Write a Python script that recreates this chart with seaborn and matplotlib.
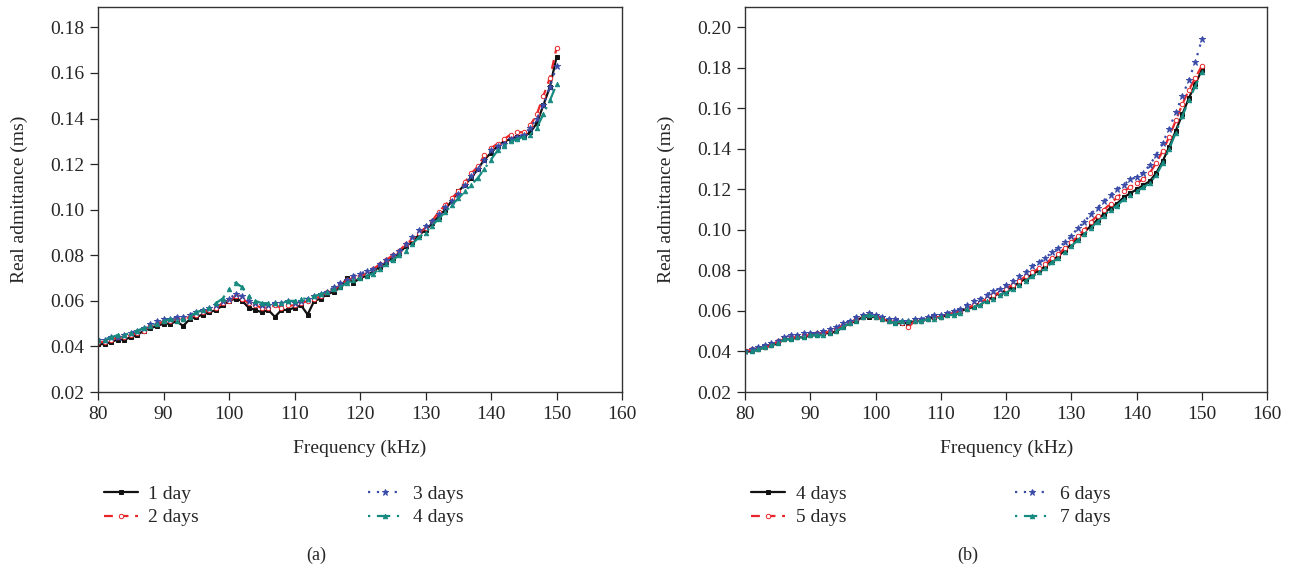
import numpy as np
import pandas as pd
import matplotlib
matplotlib.use("Agg")
import matplotlib.pyplot as plt
import seaborn as sns

# frequency axis (kHz), one reading per kHz
freq = list(range(80, 151))

# panel (a): 1 to 4 days
a_day1 = [0.041, 0.041, 0.042, 0.043, 0.043, 0.044, 0.045, 0.047, 0.048, 0.049,
          0.050, 0.050, 0.051, 0.049, 0.052, 0.053, 0.054, 0.055, 0.056, 0.058,
          0.060, 0.061, 0.060, 0.057, 0.056, 0.055, 0.056, 0.053, 0.056, 0.056,
          0.057, 0.058, 0.054, 0.060, 0.061, 0.063, 0.064, 0.066, 0.070, 0.068,
          0.070, 0.071, 0.073, 0.075, 0.077, 0.079, 0.081, 0.084, 0.086, 0.089,
          0.091, 0.094, 0.097, 0.100, 0.104, 0.108, 0.111, 0.114, 0.118, 0.122,
          0.125, 0.128, 0.130, 0.131, 0.132, 0.132, 0.134, 0.138, 0.146, 0.154,
          0.167]
a_day2 = [0.042, 0.042, 0.043, 0.044, 0.044, 0.045, 0.046, 0.047, 0.049, 0.050,
          0.051, 0.051, 0.052, 0.052, 0.053, 0.054, 0.055, 0.056, 0.057, 0.059,
          0.060, 0.062, 0.061, 0.059, 0.058, 0.057, 0.057, 0.058, 0.057, 0.058,
          0.058, 0.059, 0.060, 0.061, 0.062, 0.064, 0.065, 0.067, 0.069, 0.070,
          0.071, 0.072, 0.074, 0.076, 0.078, 0.080, 0.082, 0.085, 0.087, 0.090,
          0.092, 0.095, 0.099, 0.102, 0.105, 0.108, 0.112, 0.116, 0.119, 0.124,
          0.127, 0.129, 0.131, 0.133, 0.134, 0.134, 0.137, 0.142, 0.150, 0.158,
          0.171]
a_day3 = [0.043, 0.043, 0.044, 0.044, 0.045, 0.046, 0.047, 0.048, 0.050, 0.051,
          0.052, 0.052, 0.053, 0.053, 0.054, 0.055, 0.056, 0.057, 0.058, 0.060,
          0.061, 0.063, 0.062, 0.060, 0.059, 0.058, 0.058, 0.059, 0.059, 0.060,
          0.059, 0.060, 0.061, 0.062, 0.063, 0.064, 0.066, 0.068, 0.069, 0.071,
          0.072, 0.073, 0.074, 0.076, 0.078, 0.080, 0.082, 0.085, 0.088, 0.091,
          0.093, 0.095, 0.098, 0.101, 0.104, 0.107, 0.111, 0.115, 0.118, 0.122,
          0.126, 0.128, 0.129, 0.131, 0.132, 0.133, 0.136, 0.140, 0.146, 0.154,
          0.163]
a_day4 = [0.043, 0.043, 0.044, 0.045, 0.045, 0.046, 0.047, 0.048, 0.049, 0.050,
          0.051, 0.052, 0.051, 0.052, 0.053, 0.055, 0.056, 0.057, 0.059, 0.061,
          0.065, 0.068, 0.066, 0.062, 0.060, 0.059, 0.059, 0.059, 0.059, 0.060,
          0.060, 0.061, 0.061, 0.062, 0.063, 0.064, 0.065, 0.066, 0.068, 0.069,
          0.070, 0.071, 0.072, 0.074, 0.076, 0.078, 0.080, 0.082, 0.085, 0.088,
          0.090, 0.093, 0.096, 0.099, 0.102, 0.105, 0.108, 0.111, 0.114, 0.118,
          0.122, 0.126, 0.128, 0.130, 0.131, 0.132, 0.133, 0.136, 0.142, 0.148,
          0.155]

# panel (b): 4 to 7 days
b_day4 = [0.040, 0.040, 0.041, 0.042, 0.043, 0.044, 0.046, 0.046, 0.047, 0.047,
          0.048, 0.048, 0.049, 0.049, 0.050, 0.052, 0.054, 0.055, 0.057, 0.057,
          0.057, 0.056, 0.055, 0.054, 0.054, 0.054, 0.055, 0.055, 0.056, 0.057,
          0.057, 0.058, 0.059, 0.060, 0.061, 0.062, 0.064, 0.065, 0.067, 0.069,
          0.070, 0.072, 0.074, 0.076, 0.078, 0.080, 0.082, 0.085, 0.087, 0.090,
          0.093, 0.096, 0.099, 0.102, 0.105, 0.108, 0.111, 0.113, 0.116, 0.118,
          0.120, 0.122, 0.124, 0.128, 0.134, 0.141, 0.149, 0.157, 0.165, 0.172,
          0.179]
b_day5 = [0.040, 0.041, 0.041, 0.042, 0.043, 0.045, 0.046, 0.047, 0.047, 0.048,
          0.048, 0.049, 0.049, 0.050, 0.051, 0.053, 0.054, 0.056, 0.057, 0.058,
          0.057, 0.056, 0.055, 0.055, 0.054, 0.052, 0.055, 0.055, 0.056, 0.057,
          0.057, 0.058, 0.059, 0.060, 0.061, 0.063, 0.064, 0.066, 0.068, 0.069,
          0.071, 0.073, 0.075, 0.077, 0.079, 0.081, 0.083, 0.086, 0.088, 0.091,
          0.094, 0.097, 0.100, 0.104, 0.107, 0.110, 0.113, 0.116, 0.119, 0.121,
          0.123, 0.125, 0.128, 0.133, 0.139, 0.146, 0.154, 0.162, 0.169, 0.175,
          0.181]
b_day6 = [0.040, 0.041, 0.042, 0.043, 0.044, 0.045, 0.047, 0.048, 0.048, 0.049,
          0.049, 0.049, 0.050, 0.051, 0.052, 0.054, 0.055, 0.057, 0.058, 0.059,
          0.058, 0.057, 0.056, 0.056, 0.055, 0.055, 0.056, 0.056, 0.057, 0.058,
          0.058, 0.059, 0.060, 0.061, 0.063, 0.065, 0.066, 0.068, 0.070, 0.071,
          0.073, 0.075, 0.077, 0.079, 0.082, 0.084, 0.086, 0.089, 0.091, 0.094,
          0.097, 0.101, 0.104, 0.108, 0.111, 0.114, 0.117, 0.120, 0.122, 0.125,
          0.126, 0.128, 0.132, 0.137, 0.143, 0.150, 0.158, 0.166, 0.174, 0.183,
          0.194]
b_day7 = [0.040, 0.040, 0.041, 0.042, 0.043, 0.044, 0.046, 0.046, 0.047, 0.047,
          0.048, 0.048, 0.048, 0.049, 0.050, 0.052, 0.054, 0.055, 0.057, 0.058,
          0.057, 0.056, 0.055, 0.054, 0.055, 0.055, 0.055, 0.055, 0.056, 0.056,
          0.057, 0.058, 0.058, 0.059, 0.061, 0.062, 0.063, 0.065, 0.066, 0.068,
          0.069, 0.071, 0.073, 0.075, 0.077, 0.079, 0.081, 0.084, 0.086, 0.089,
          0.092, 0.095, 0.098, 0.101, 0.104, 0.107, 0.110, 0.112, 0.115, 0.117,
          0.119, 0.121, 0.123, 0.127, 0.133, 0.140, 0.148, 0.156, 0.164, 0.171,
          0.178]

labels_a = ["1 day", "2 days", "3 days", "4 days"]
labels_b = ["4 days", "5 days", "6 days", "7 days"]

colors = ["#111111", "#e8262a", "#3a4ca8", "#178a80"]
styles = ["-", (0, (4, 3)), (0, (1, 3)), (0, (1, 3, 6, 3))]
markers = ["s", "o", "*", "^"]

sns.set_style("ticks")
plt.rcParams["font.family"] = ["Liberation Serif", "DejaVu Serif"]

fig = plt.figure(figsize=(12.97, 5.74), dpi=100)
ax_a = fig.add_axes([0.0756, 0.317, 0.404, 0.671])
ax_b = fig.add_axes([0.5745, 0.317, 0.4025, 0.671])


def draw(ax, series, labels, ylim, yticks):
    for vals, lab, c, ls, m in zip(series, labels, colors, styles, markers):
        sns.lineplot(x=freq, y=vals, ax=ax, color=c, linestyle=ls, marker=m,
                     markersize=4.5 if m == "*" else 3.2, markeredgewidth=0.7,
                     markeredgecolor=c, linewidth=1.6,
                     label=lab, legend=False,
                     markerfacecolor="white" if m == "o" else c)
    ax.set_xlim(80, 160)
    ax.set_xticks(range(80, 161, 10))
    ax.set_ylim(*ylim)
    ax.set_yticks(yticks)
    ax.set_yticklabels([f"{t:.2f}" for t in yticks])
    ax.set_xlabel("Frequency (kHz)", fontsize=14, labelpad=12)
    ax.set_ylabel("Real admittance (ms)", fontsize=14, labelpad=16)
    ax.tick_params(labelsize=14, direction="out", length=6, width=0.9, pad=4)
    for s in ax.spines.values():
        s.set_color("#333333")
        s.set_linewidth(1.0)


draw(ax_a, [a_day1, a_day2, a_day3, a_day4], labels_a, (0.02, 0.189),
     [0.02, 0.04, 0.06, 0.08, 0.10, 0.12, 0.14, 0.16, 0.18])
draw(ax_b, [b_day4, b_day5, b_day6, b_day7], labels_b, (0.02, 0.21),
     [0.02, 0.04, 0.06, 0.08, 0.10, 0.12, 0.14, 0.16, 0.18, 0.20])

for ax, x0 in [(ax_a, 0.0695), (ax_b, 0.5685)]:
    h, l = ax.get_legend_handles_labels()
    fig.legend(h, l, loc="upper left", bbox_to_anchor=(x0, 0.178), ncol=2,
               frameon=False, fontsize=14, handlelength=1.75,
               columnspacing=8.7, labelspacing=0.3, handletextpad=0.55,
               borderpad=0.2)

fig.text(0.2435, 0.025, "(a)", ha="center", fontsize=13)
fig.text(0.7465, 0.025, "(b)", ha="center", fontsize=13)

fig.savefig("out.png", dpi=100)
